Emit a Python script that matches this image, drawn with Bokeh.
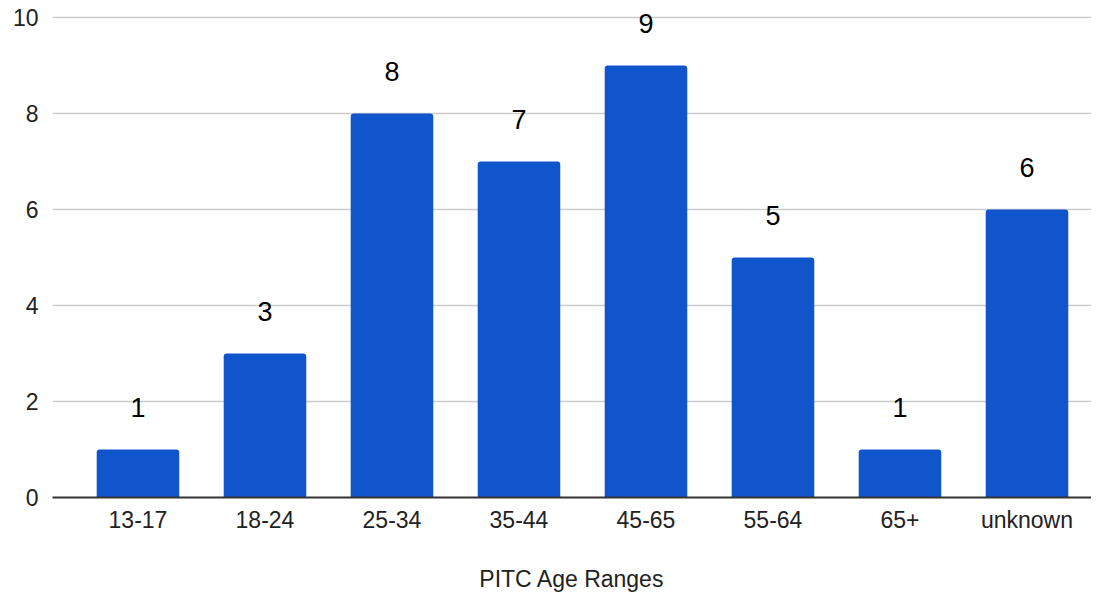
from bokeh.plotting import figure
from bokeh.models import ColumnDataSource, LabelSet, FixedTicker, Range1d
from bokeh.core.properties import value
from bokeh.embed import file_html
from bokeh.resources import INLINE

categories = ["13-17", "18-24", "25-34", "35-44", "45-65", "55-64", "65+", "unknown"]
counts = [1, 3, 8, 7, 9, 5, 1, 6]
y_ticks = [0, 2, 4, 6, 8, 10]
x_title = "PITC Age Ranges"

xs = list(range(len(categories)))
src = ColumnDataSource(dict(x=xs, top=counts, label=[str(c) for c in counts]))

FONT = "Liberation Sans"

p = figure(width=1091, height=594, output_backend="svg", toolbar_location=None,
           x_range=Range1d(-0.673, 7.508), y_range=Range1d(0, 10.19),
           min_border_left=52, min_border_right=0, min_border_top=8, min_border_bottom=60)
p.outline_line_color = None

p.vbar(x="x", top="top", width=0.65, source=src, fill_color="#1155cc",
       line_color=None, border_radius=(3, 3, 0, 0))

labels = LabelSet(x="x", y="top", text="label", source=src, y_offset=42,
                  text_align="center", text_baseline="middle",
                  text_font=value(FONT), text_font_size=value("27px"),
                  text_color="#000000")
p.add_layout(labels)

p.xaxis.ticker = FixedTicker(ticks=xs)
p.xaxis.major_label_overrides = {i: c for i, c in enumerate(categories)}
p.xaxis.major_tick_out = 0
p.xaxis.major_tick_in = 0
p.xaxis.minor_tick_out = 0
p.xaxis.axis_line_color = "#333333"
p.xaxis.axis_line_width = 2
p.xaxis.major_label_standoff = 9
p.xaxis.major_label_text_font = FONT
p.xaxis.major_label_text_font_size = "23px"
p.xaxis.major_label_text_color = "#222222"
p.xaxis.axis_label = x_title
p.xaxis.axis_label_text_font = FONT
p.xaxis.axis_label_text_font_size = "23px"
p.xaxis.axis_label_text_font_style = "normal"
p.xaxis.axis_label_text_color = "#222222"
p.xaxis.axis_label_standoff = 30

p.yaxis.ticker = FixedTicker(ticks=y_ticks)
p.yaxis.axis_line_color = None
p.yaxis.major_tick_out = 0
p.yaxis.major_tick_in = 0
p.yaxis.minor_tick_out = 0
p.yaxis.major_label_standoff = 14
p.yaxis.major_label_text_font = FONT
p.yaxis.major_label_text_font_size = "23px"
p.yaxis.major_label_text_color = "#222222"

p.xgrid.grid_line_color = None
p.ygrid.grid_line_color = "#cccccc"
p.ygrid.grid_line_width = 1.5
p.ygrid.ticker = FixedTicker(ticks=y_ticks)

open("out.html", "w").write(file_html(p, INLINE))
